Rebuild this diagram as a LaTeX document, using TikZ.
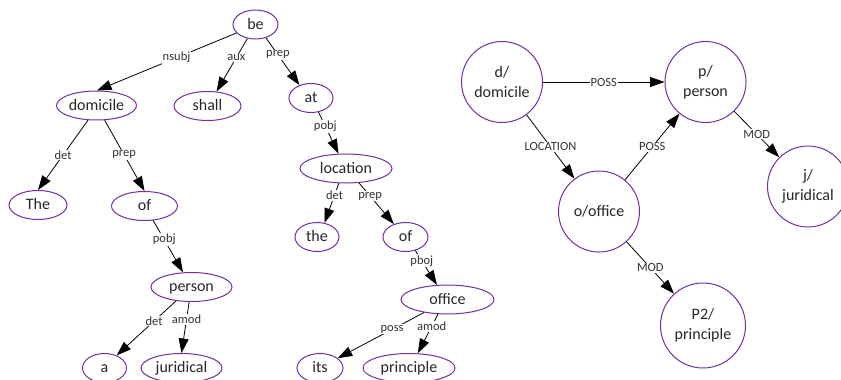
\documentclass[tikz,border=0pt]{standalone}
\usepackage{fontspec}
\setmainfont{Carlito}
\usetikzlibrary{arrows.meta,shapes.geometric,positioning}
\definecolor{nodepurple}{HTML}{7030A0}
\definecolor{labelgray}{HTML}{333333}

\begin{document}
\begin{tikzpicture}[x=1pt,y=-1pt,
		word/.style={ellipse, draw=nodepurple, line width=1pt, inner sep=0pt, minimum height=29pt, text height=12pt, text depth=3pt, text=black!85, font=\fontsize{16}{20}\selectfont},
		concept/.style={circle, draw=nodepurple, line width=1pt, inner sep=0pt, minimum size=81pt, align=center, text=black!85, font=\fontsize{16}{20}\selectfont},
		dep/.style={-{Triangle[length=14.5pt,width=10pt]}, line width=0.8pt},
		lab/.style={fill=white, inner sep=1pt, text=labelgray, font=\fontsize{12.5}{14}\selectfont}]
		\useasboundingbox (0,0) rectangle (841,380);
		\node [word, minimum width=45pt] (be) at (255.5,24.5) {be};
		\node [word, minimum width=80pt] (domicile) at (96.5,105.5) {domicile};
		\node [word, minimum width=67pt] (shall) at (207.5,106) {shall};
		\node [word, minimum width=44pt] (at) at (311,98) {at};
		\node [word, minimum width=92pt] (location) at (346,168.5) {location};
		\node [word, minimum width=58pt] (The) at (38,205) {The};
		\node [word, minimum width=66pt] (ofA) at (144.5,206) {of};
		\node [word, minimum width=44pt] (the) at (317,237) {the};
		\node [word, minimum width=45pt] (ofB) at (405.5,237) {of};
		\node [word, minimum width=81pt] (person) at (191.5,287) {person};
		\node [word, minimum width=93pt] (office) at (447.5,299.5) {office};
		\node [word, minimum width=44pt] (a) at (104.5,368) {a};
		\node [word, minimum width=81pt] (juridical) at (181.5,368) {juridical};
		\node [word, minimum width=46pt] (its) at (320,368) {its};
		\node [word, minimum width=92pt] (principle) at (409,368) {principle};
		\draw [dep] (be.204) -- node [lab, pos=0.43] {nsubj} (domicile.88);
		\draw [dep] (be.240) -- node [lab, pos=0.36] {aux} (shall.58);
		\draw [dep] (be.308) -- node [lab, pos=0.36] {prep} (at.132);
		\draw [dep] (domicile.240) -- node [lab, pos=0.5] {det} (The.north);
		\draw [dep] (domicile.299) -- node [lab, pos=0.49] {prep} (ofA.north);
		\draw [dep] (at.298) -- node [lab, pos=0.34] {pobj} (location.117);
		\draw [dep] (location.244) -- node [lab, pos=0.3] {det} (the.62);
		\draw [dep] (location.312) -- node [lab, pos=0.32] {prep} (ofB.132);
		\draw [dep] (ofA.301) -- node [lab, pos=0.37] {pobj} (person.120);
		\draw [dep] (ofB.306) -- node [lab, pos=0.3] {pboj} (office.126);
		\draw [dep] (person.222) -- node [lab, pos=0.37] {det} (a.46);
		\draw [dep] (person.261) -- node [lab, pos=0.34] {amod} (juridical.north);
		\draw [dep] (office.209) -- node [lab, pos=0.37] {poss} (its.29);
		\draw [dep] (office.237) -- node [lab, pos=0.31] {amod} (principle.59);
		\node [concept] (cdomicile) at (502,82) {d/\\domicile};
		\node [concept] (cperson) at (705.5,82) {p/\\person};
		\node [concept] (coffice) at (599,211.5) {o/office};
		\node [concept] (cjuridical) at (808,186.5) {j/\\juridical};
		\node [concept, minimum size=85pt] (cprinciple) at (703,325.5) {P2/\\principle};
		\draw [dep] (cdomicile) -- node [lab] {POSS} (cperson);
		\draw [dep] (cdomicile) -- node [lab] {LOCATION} (coffice);
		\draw [dep] (coffice) -- node [lab] {POSS} (cperson);
		\draw [dep] (cperson) -- node [lab] {MOD} (cjuridical);
		\draw [dep] (coffice) -- node [lab] {MOD} (cprinciple);
\end{tikzpicture}
\end{document}
